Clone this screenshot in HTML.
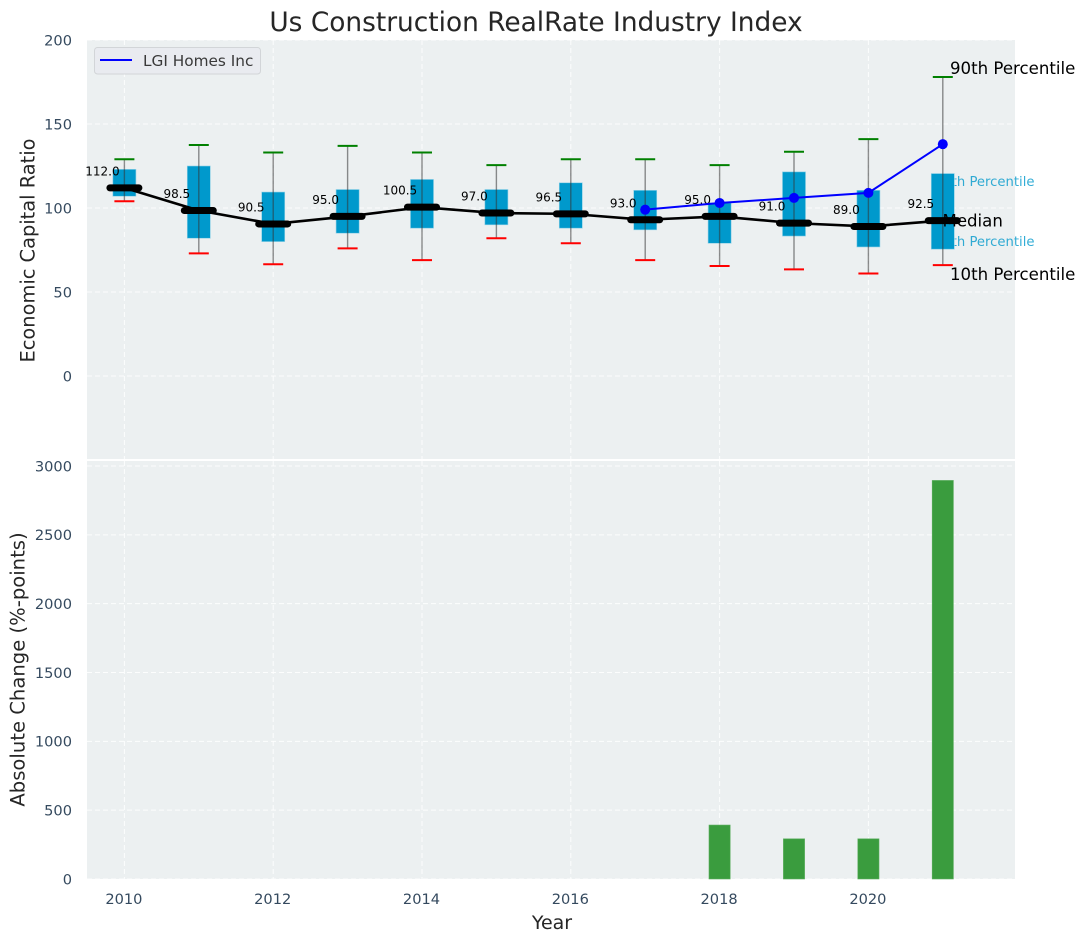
<!DOCTYPE html>
<html>
<head>
<meta charset="utf-8">
<title>Us Construction RealRate Industry Index</title>
<style>
html,body{margin:0;padding:0;background:#fff;}
svg{display:block;}
text{font-family:"DejaVu Sans","Liberation Sans",sans-serif;}
</style>
</head>
<body>
<svg id="chart" xmlns="http://www.w3.org/2000/svg" width="1085" height="942" viewBox="0 0 1085 942">
  <rect x="87" y="40" width="928" height="419" fill="#ecf0f1"/>
  <rect x="87" y="461" width="928" height="418" fill="#ecf0f1"/>
  <g id="grid"></g>
  <g id="bars"></g>
  <text x="1034.5" y="186" text-anchor="end" font-size="13.2" fill="#0099cc" fill-opacity="0.8">75th Percentile</text>
  <text x="1034.5" y="246" text-anchor="end" font-size="13.2" fill="#0099cc" fill-opacity="0.8">25th Percentile</text>
  <g id="boxes"></g>
  <g id="lines"></g>
  <g id="ticks"></g>
  <text x="536" y="31" text-anchor="middle" font-size="26.4" fill="#262626">Us Construction RealRate Industry Index</text>
  <text transform="translate(34.5,250.5) rotate(-90)" text-anchor="middle" font-size="19.4" fill="#262626">Economic Capital Ratio</text>
  <text transform="translate(24.5,669.5) rotate(-90)" text-anchor="middle" font-size="19.6" fill="#262626">Absolute Change (%-points)</text>
  <text x="552" y="929" text-anchor="middle" font-size="19" fill="#262626">Year</text>
  <text x="950" y="74" font-size="16.6" fill="#000">90th Percentile</text>
  <text x="942.5" y="226.5" font-size="16.6" fill="#000">Median</text>
  <text x="950" y="280" font-size="16.6" fill="#000">10th Percentile</text>
  <g>
    <rect x="94.5" y="47.5" width="166" height="26.5" rx="3" fill="#e9ebf0" stroke="#d2d5d8" stroke-width="1"/>
    <line x1="100" y1="60" x2="132" y2="60" stroke="#0000ff" stroke-width="2"/>
    <text x="143" y="66" font-size="15.3" fill="#3a3a3a">LGI Homes Inc</text>
  </g>
</svg>
<script>
const years = [2010, 2011, 2012, 2013, 2014, 2015, 2016, 2017, 2018, 2019, 2020, 2021];
const p90 = [129, 137.5, 133, 137, 133, 125.5, 129, 129, 125.5, 133.5, 141, 178];
const p75 = [123, 125, 109.5, 111, 117, 111, 115, 110.5, 103, 121.5, 110.5, 120.5];
const medians = [112, 98.5, 90.5, 95, 100.5, 97, 96.5, 93, 95, 91, 89, 92.5];
const p25 = [107, 82, 80, 85, 88, 90, 88, 87, 79, 83.3, 76.8, 75.5];
const p10 = [104, 73, 66.5, 76, 69, 82, 79, 69, 65.5, 63.5, 61, 66];
const companyYears = [2017, 2018, 2019, 2020, 2021];
const companyValues = [99, 103, 106, 109, 138];
const barYears = [2018, 2019, 2020, 2021];
const barValues = [392, 292, 292, 2895];
const topTicks = [0, 50, 100, 150, 200];
const bottomTicks = [0, 500, 1000, 1500, 2000, 2500, 3000];
const xTicks = [2010, 2012, 2014, 2016, 2018, 2020];

const NS = 'http://www.w3.org/2000/svg';
function xScale(v) { return 124.4 + (v - 2010) * 74.4; }
function yTop(v) { return 376 - v * 1.68; }
function yBottom(v) { return 879 - v * 0.13767; }
function make(tag, parent, props) {
  const node = document.createElementNS(NS, tag);
  for (const k in props) node.setAttribute(k, props[k]);
  document.getElementById(parent).appendChild(node);
  return node;
}

xTicks.forEach(function (t) {
  const g1 = make('line', 'grid', {x1: xScale(t), x2: xScale(t), y1: 40, y2: 459, stroke: '#fff', 'stroke-width': 1, 'stroke-dasharray': '5 3', 'stroke-opacity': 0.85});
  
  
  const g2 = make('line', 'grid', {x1: xScale(t), x2: xScale(t), y1: 461, y2: 879, stroke: '#fff', 'stroke-width': 1, 'stroke-dasharray': '5 3', 'stroke-opacity': 0.85});
  
  
  const lbl = make('text', 'ticks', {x: xScale(t) - 0.5, y: 904, 'text-anchor': 'middle', 'font-size': 14.6, fill: '#34495e'});
  lbl.textContent = t;
  
  
});

topTicks.forEach(function (t) {
  const g = make('line', 'grid', {x1: 87, x2: 1015, y1: yTop(t), y2: yTop(t), stroke: '#fff', 'stroke-width': 1, 'stroke-dasharray': '5 3', 'stroke-opacity': 0.85});
  
  
  const lbl = make('text', 'ticks', {x: 72, y: yTop(t) + 5.3, 'text-anchor': 'end', 'font-size': 14.6, fill: '#34495e'});
  lbl.textContent = t;
  
  
});

bottomTicks.forEach(function (t) {
  const g = make('line', 'grid', {x1: 87, x2: 1015, y1: yBottom(t), y2: yBottom(t), stroke: '#fff', 'stroke-width': 1, 'stroke-dasharray': '5 3', 'stroke-opacity': 0.85});
  
  
  const lbl = make('text', 'ticks', {x: 72, y: yBottom(t) + 5.3, 'text-anchor': 'end', 'font-size': 14.6, fill: '#34495e'});
  lbl.textContent = t;
  
  
});

barYears.forEach(function (yr, i) {
  const bw = 0.285 * 74.4;
  const b = make('rect', 'bars', {x: xScale(yr) - bw / 2, y: yBottom(barValues[i]), width: bw, height: 879 - yBottom(barValues[i]), fill: '#3a9c3e', stroke: '#5cae5f', 'stroke-width': 0.6});
  
  
});

years.forEach(function (yr, i) {
  const cx = xScale(yr);
  const bw = 0.31 * 74.4;
  const box = make('rect', 'boxes', {x: cx - bw / 2, y: yTop(p75[i]), width: bw, height: yTop(p25[i]) - yTop(p75[i]), fill: '#0099cc', stroke: '#8fd0e6', 'stroke-width': 0.6});
  
  
  const w = make('line', 'boxes', {x1: cx, x2: cx, y1: yTop(p90[i]), y2: yTop(p10[i]), stroke: '#333', 'stroke-opacity': 0.55, 'stroke-width': 1.4});
  
  
  const ct = make('line', 'boxes', {x1: cx - 10, x2: cx + 10, y1: yTop(p90[i]), y2: yTop(p90[i]), stroke: '#008000', 'stroke-width': 2});
  
  
  const cb = make('line', 'boxes', {x1: cx - 10, x2: cx + 10, y1: yTop(p10[i]), y2: yTop(p10[i]), stroke: '#ff0000', 'stroke-width': 2});
  
  
});

const medianLine = make('polyline', 'lines', {points: years.map(function (yr, i) { return xScale(yr) + ',' + yTop(medians[i]); }).join(' '), fill: 'none', stroke: '#000', 'stroke-width': 2.6});



years.forEach(function (yr, i) {
  const cx = xScale(yr);
  const m = make('line', 'lines', {x1: cx - 14.5, x2: cx + 14.5, y1: yTop(medians[i]), y2: yTop(medians[i]), stroke: '#000', 'stroke-width': 7, 'stroke-linecap': 'round'});
  
  
  const lbl = make('text', 'lines', {x: cx - 22, y: yTop(medians[i]) - 12.5, 'text-anchor': 'middle', 'font-size': 12, fill: '#000'});
  lbl.textContent = medians[i].toFixed(1);
  
  
});

const companyLine = make('polyline', 'lines', {points: companyYears.map(function (yr, i) { return xScale(yr) + ',' + yTop(companyValues[i]); }).join(' '), fill: 'none', stroke: '#0000ff', 'stroke-width': 2});



companyYears.forEach(function (yr, i) {
  const p = make('circle', 'lines', {cx: xScale(yr), cy: yTop(companyValues[i]), r: 5, fill: '#0000ff'});
  
  
});
</script>
</body>
</html>
